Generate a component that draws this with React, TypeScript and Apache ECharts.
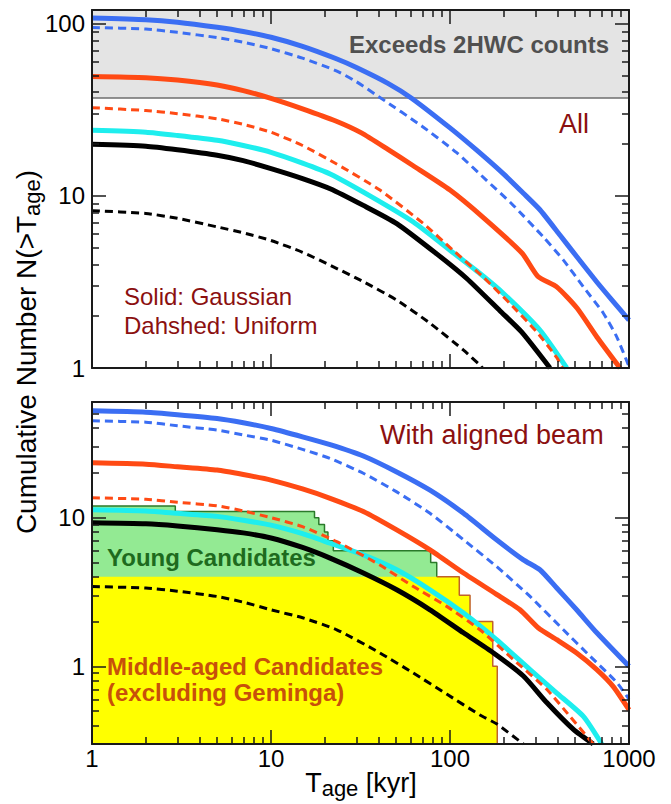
import React, { useEffect, useRef } from "react";
import * as echarts from "echarts";

// ---------- axes ----------
const xRange = [1, 1000];
const topRange = [1, 120];
const bottomRange = [0.3, 60];
const xMajor = [1, 10, 100, 1000];
const xMinor = [2, 3, 4, 5, 6, 7, 8, 9, 20, 30, 40, 50, 60, 70, 80, 90, 200, 300, 400, 500, 600, 700, 800, 900];
const yMajorTop = [1, 10, 100];
const yMinorTop = [2, 3, 4, 5, 6, 7, 8, 9, 20, 30, 40, 50, 60, 70, 80, 90];
const yMajorBottom = [1, 10];
const yMinorBottom = [0.4, 0.5, 0.6, 0.7, 0.8, 0.9, 2, 3, 4, 5, 6, 7, 8, 9, 20, 30, 40, 50];
const hwcLimit = 37;

// ---------- top panel ("All"): [T_age kyr, N(>T_age)] ----------
const allBlueSolid = [[1, 108], [2, 105.5], [3, 102], [5, 95.2], [7, 90], [10, 83.3], [15, 73.8], [23, 62.7], [30, 55.6], [45, 45], [61, 36.9], [100, 24.8], [141, 18.4], [199, 13.4], [257, 10.35], [318, 8.3], [412, 5.9], [510, 4.44], [661, 3.16], [817, 2.43], [1000, 1.9]];
const allBlueDash = [[1, 95], [2, 93], [3, 89], [5, 83], [7, 78], [10, 71.5], [15, 63], [23, 53.4], [30, 46], [41, 37], [70, 25.3], [109, 17.8], [160, 12.3], [221, 9.0], [332, 5.77], [430, 4.23], [556, 2.96], [719, 2.08], [853, 1.52], [1000, 1.02]];
const allOrangeSolid = [[1, 49.3], [2, 48.5], [3, 47], [5, 44], [7, 40.8], [10, 36.8], [15, 32], [23, 27.2], [32, 23.2], [45, 18.6], [62, 15.0], [100, 10.8], [153, 7.5], [253, 4.64], [310, 3.4], [396, 2.95], [512, 2.23], [663, 1.51], [891, 1.0]];
const allOrangeDash = [[1, 32.5], [2, 31.3], [3, 30], [5, 28], [7, 26], [10, 23.4], [15, 19.6], [23, 15.4], [40.6, 10.8], [71, 6.9], [104, 4.83], [153, 3.38], [216, 2.37], [305, 1.62], [395, 1.15], [425, 1.0]];
const allCyan = [[1, 24], [2, 23.4], [3, 22.4], [5, 21], [7, 19.6], [10, 17.9], [15, 15.5], [21.4, 13.4], [35.7, 10.0], [62.4, 7.05], [100, 4.83], [147, 3.54], [199, 2.71], [318, 1.66], [449, 1.0]];
const allBlackSolid = [[1, 19.9], [2, 19.4], [3, 18.5], [5, 17.2], [7, 16], [10, 14.4], [15, 12.6], [21.4, 11.0], [32.8, 8.8], [50.4, 6.9], [84.3, 4.6], [124, 3.31], [190, 2.15], [251, 1.62], [362, 1.0]];
const allBlackDash = [[1, 8.2], [2, 7.9], [3, 7.4], [5, 6.6], [7, 6.1], [10, 5.5], [15, 4.7], [22.3, 3.87], [32.8, 3.17], [50.4, 2.48], [77.3, 1.82], [119, 1.27], [147, 1.04], [152, 1.0]];

// ---------- bottom panel ("With aligned beam") ----------
const beamBlueSolid = [[1, 52.3], [2, 51.2], [3, 49.3], [5, 46.5], [7, 43.5], [10, 39.8], [15, 35], [21.4, 31.0], [32.8, 26.0], [50.4, 20.3], [77.3, 15.3], [119, 10.7], [182, 7.1], [257, 5.2], [318, 4.46], [395, 3.36], [510, 2.4], [661, 1.68], [1000, 1.0]];
const beamBlueDash = [[1, 44.8], [2, 43.9], [3, 41.5], [5, 38.8], [7, 36], [10, 33.2], [15, 28.8], [21.4, 25.0], [32.8, 19.9], [50.4, 14.9], [77.3, 10.7], [119, 7.1], [182, 4.69], [280, 2.95], [430, 1.76], [606, 1.17], [853, 0.78], [1000, 0.6]];
const beamOrangeSolid = [[1, 23.4], [2, 22.9], [3, 22], [5, 20.9], [7, 19.5], [10, 17.9], [15, 15.6], [21.4, 13.5], [32.8, 11.0], [50.4, 8.27], [77.3, 6.07], [119, 4.24], [182, 3.05], [246, 2.4], [312, 1.81], [395, 1.51], [510, 1.23], [661, 0.95], [817, 0.73], [1000, 0.51]];
const beamOrangeDash = [[1, 13.6], [2, 13.3], [3, 12.7], [5, 12], [7, 11.1], [10, 10.0], [15, 8.7], [23.3, 6.9], [40.6, 4.8], [62.4, 3.44], [95.8, 2.53], [147, 1.76], [226, 1.11], [347, 0.7], [468, 0.46], [631, 0.3]];
const beamCyan = [[1, 11.3], [2, 11.1], [3, 10.7], [5, 10.2], [7, 9.6], [10, 8.9], [15, 7.8], [21.4, 6.73], [32.8, 5.62], [50.4, 4.46], [77.3, 3.27], [119, 2.28], [182, 1.51], [280, 0.95], [395, 0.66], [556, 0.46], [704, 0.3]];
const beamBlackSolid = [[1, 9.25], [2, 9.1], [3, 8.8], [5, 8.3], [7, 7.9], [10, 7.3], [15, 6.3], [21.4, 5.34], [32.8, 4.24], [50.4, 3.27], [77.3, 2.4], [119, 1.68], [175, 1.23], [257, 0.86], [347, 0.57], [489, 0.376], [631, 0.3]];
const beamBlackDash = [[1, 3.44], [2, 3.36], [3, 3.2], [5, 2.95], [7, 2.7], [10, 2.4], [15, 2.12], [23.3, 1.76], [40.6, 1.23], [62.4, 0.9], [95.8, 0.65], [147, 0.47], [182, 0.41], [257, 0.3]];

// ---------- candidate step histograms (cumulative counts from each edge on) ----------
const youngAgeEdges = [1, 2.92, 17.5, 18.5, 19.9, 20.8, 22.3, 78, 84.3];
const youngCumulative = [12, 11, 10, 9, 8, 7, 6, 5, 4];
const middleAgeEdges = [1, 112.7, 129.4, 173.3, 183.7];
const middleCumulative = [4, 3, 2, 1, 0];

const FONT = "'Liberation Sans', Arial, Helvetica, sans-serif";
const L = (v: number) => Math.log10(v);
const toLog = (pts: number[][]) => pts.map(([t, n]) => [L(t), L(n)]);
const fmt = (v: number) => String(Math.round(Math.pow(10, v)));

const AXC = "#1a1a1a";
const LINE = { color: AXC, width: 2 };
const TICK = { color: AXC, width: 1.5 };

function measure(text: string, size: number, bold = false) {
  const ctx = document.createElement("canvas").getContext("2d");
  if (!ctx) return text.length * size * 0.55;
  ctx.font = `${bold ? "bold " : ""}${size}px 'Liberation Sans'`;
  return ctx.measureText(text).width;
}

function axisSet(kind: "x" | "y", gridIndex: number, range: number[], major: number[], minor: number[], labelled: boolean) {
  const sides = kind === "x" ? ["bottom", "top"] : ["left", "right"];
  const out: any[] = [];
  sides.forEach((pos, si) => {
    const base = {
      type: "value",
      gridIndex,
      min: L(range[0]),
      max: L(range[1]),
      position: pos,
      z: 10,
      splitLine: { show: false },
      axisPointer: { show: false },
    };
    out.push({
      ...base,
      axisLine: { show: true, onZero: false, lineStyle: LINE },
      axisTick: { show: true, inside: true, length: 14, customValues: major.map(L), lineStyle: TICK },
      axisLabel:
        labelled && si === 0
          ? { show: true, customValues: major.map(L), formatter: fmt, margin: kind === "x" ? 2 : 7, fontSize: 24, fontFamily: FONT, color: "#000" }
          : { show: false },
    });
    out.push({
      ...base,
      axisLine: { show: false, onZero: false },
      axisTick: { show: true, inside: true, length: 7, customValues: minor.map(L), lineStyle: TICK },
      axisLabel: { show: false },
    });
  });
  return out;
}

function curve(data: number[][], color: string, width: number, dashed: boolean, idx: number) {
  return {
    type: "line",
    xAxisIndex: idx,
    yAxisIndex: idx,
    data: toLog(data),
    symbol: "none",
    showSymbol: false,
    smooth: 0.2,
    clip: true,
    silent: true,
    z: 6,
    lineStyle: { color, width, type: dashed ? [8, 5] : "solid", cap: "butt", join: "round" },
  };
}

function text(t: string, x: number, y: number, size: number, color: string, bold = false) {
  return {
    type: "text",
    x,
    y,
    z: 5,
    silent: true,
    style: {
      text: t,
      fill: color,
      fontSize: size,
      fontFamily: FONT,
      fontWeight: bold ? "bold" : "normal",
      align: "left",
      verticalAlign: "middle",
      textAlign: "left",
      textVerticalAlign: "middle",
    },
  };
}

function buildOption() {
  const BLUE = "#3b6ef3";
  const ORANGE = "#ff4a14";
  const CYAN = "#1eeeee";
  const BLACK = "#000000";
  const RED = "#8b1010";

  const bottomMin = bottomRange[0];
  const youngData = youngAgeEdges.map((t, i) => [L(t), L(youngCumulative[i])]);
  const middleData = middleAgeEdges.map((t, i) => [L(t), L(Math.max(middleCumulative[i], bottomMin))]);
  const middleEdge = [[L(youngAgeEdges[youngAgeEdges.length - 1]), L(middleCumulative[0])], ...middleData.slice(1)];

  const panels = [
    { idx: 0, sets: [allBlackDash, allBlackSolid, allCyan, allOrangeDash, allOrangeSolid, allBlueDash, allBlueSolid] },
    { idx: 4, sets: [beamBlackDash, beamBlackSolid, beamCyan, beamOrangeDash, beamOrangeSolid, beamBlueDash, beamBlueSolid] },
  ];
  const styles: [string, number, boolean][] = [
    [BLACK, 3, true],
    [BLACK, 5, false],
    [CYAN, 5, false],
    [ORANGE, 3, true],
    [ORANGE, 5, false],
    [BLUE, 3, true],
    [BLUE, 5, false],
  ];

  const series: any[] = [
    {
      type: "line",
      xAxisIndex: 0,
      yAxisIndex: 0,
      data: [[L(xRange[0]), L(hwcLimit)], [L(xRange[1]), L(hwcLimit)]],
      symbol: "none",
      silent: true,
      z: 1,
      lineStyle: { color: "#6e6e6e", width: 1.5 },
      areaStyle: { color: "#e4e4e4", opacity: 1, origin: "end" },
    },
    {
      type: "line",
      xAxisIndex: 4,
      yAxisIndex: 4,
      data: youngData,
      step: "end",
      symbol: "none",
      silent: true,
      z: 2,
      lineStyle: { color: "#2a7a2a", width: 1.5 },
      areaStyle: { color: "#93ea93", opacity: 1, origin: "start" },
    },
    {
      type: "line",
      xAxisIndex: 4,
      yAxisIndex: 4,
      data: middleData,
      step: "end",
      symbol: "none",
      silent: true,
      z: 2,
      lineStyle: { width: 0, opacity: 0 },
      areaStyle: { color: "#ffff00", opacity: 1, origin: "start" },
    },
    {
      type: "line",
      xAxisIndex: 4,
      yAxisIndex: 4,
      data: middleEdge,
      step: "end",
      symbol: "none",
      silent: true,
      z: 2,
      lineStyle: { color: "#c0622a", width: 1.5 },
    },
  ];
  panels.forEach((p) => p.sets.forEach((d, i) => series.push(curve(d, styles[i][0], styles[i][1], styles[i][2], p.idx))));

  // rotated y title with subscript
  const yMain = 28, ySub = 22;
  const y1 = "Cumulative Number N(>T", y2 = "age", y3 = ")";
  const yw1 = measure(y1, yMain), yw2 = measure(y2, ySub), yw3 = measure(y3, yMain);
  const yW = yw1 + yw2 + yw3;
  const yBase = 36;
  const yTitle = {
    type: "group",
    x: yBase,
    y: 352 + yW / 2,
    rotation: Math.PI / 2,
    children: [
      text(y1, 0, -0.3465 * yMain, yMain, "#000"),
      text(y2, yw1, 4 - 0.3465 * ySub, ySub, "#000"),
      text(y3, yw1 + yw2, -0.3465 * yMain, yMain, "#000"),
    ],
  };

  // x title with subscript
  const xMain = 27, xSub = 22;
  const x1 = "T", x2 = "age", x3 = " [kyr]";
  const xw1 = measure(x1, xMain), xw2 = measure(x2, xSub), xw3 = measure(x3, xMain);
  const xStart = 361 - (xw1 + xw2 + xw3) / 2;
  const xBaseline = 792;

  const graphic = [
    yTitle,
    text(x1, xStart, xBaseline - 0.3465 * xMain, xMain, "#000"),
    text(x2, xStart + xw1, xBaseline + 4 - 0.3465 * xSub, xSub, "#000"),
    text(x3, xStart + xw1 + xw2, xBaseline - 0.3465 * xMain, xMain, "#000"),
    text("Exceeds 2HWC counts", 349, 44.8, 24, "#505050", true),
    text("All", 559, 124, 27, RED),
    text("Solid: Gaussian", 124, 296, 24, RED),
    text("Dahshed: Uniform", 124, 325, 24, RED),
    text("With aligned beam", 380, 435, 27, RED),
    text("Young Candidates", 107, 557, 24, "#1e6b1e", true),
    text("Middle-aged Candidates", 107, 666.5, 24, "#c8500a", true),
    text("(excluding Geminga)", 107, 692, 24, "#c8500a", true),
  ];

  return {
    animation: false,
    backgroundColor: "#ffffff",
    grid: [
      { left: 92, top: 10, width: 537, height: 358, outerBoundsMode: "none", containLabel: false },
      { left: 92, top: 402, width: 537, height: 342, outerBoundsMode: "none", containLabel: false },
    ],
    xAxis: [
      ...axisSet("x", 0, xRange, xMajor, xMinor, false),
      ...axisSet("x", 1, xRange, xMajor, xMinor, true),
    ],
    yAxis: [
      ...axisSet("y", 0, topRange, yMajorTop, yMinorTop, true),
      ...axisSet("y", 1, bottomRange, yMajorBottom, yMinorBottom, true),
    ],
    series,
    graphic,
  };
}

export default function App() {
  const ref = useRef<HTMLDivElement>(null);
  useEffect(() => {
    if (!ref.current) return;
    const chart = echarts.init(ref.current, undefined, { renderer: "svg" });
    chart.setOption(buildOption() as any);
    return () => chart.dispose();
  }, []);
  return (
    <div
      ref={ref}
      style={{ position: "fixed", left: 0, top: 0, width: 671, height: 804, background: "#fff" }}
    />
  );
}
